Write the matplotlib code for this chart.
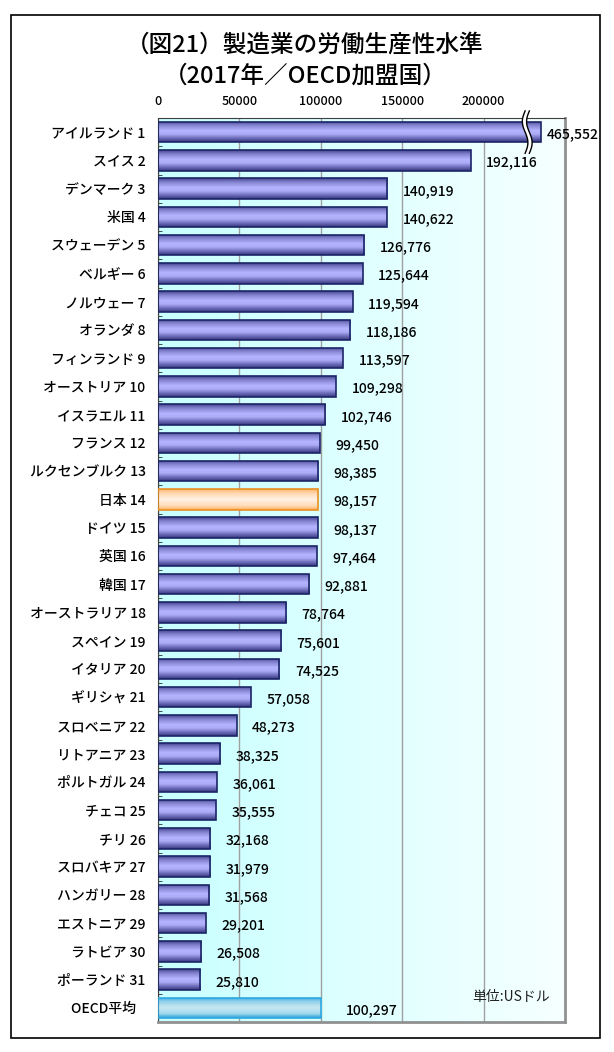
import numpy as np
import matplotlib
matplotlib.use("Agg")
import matplotlib.pyplot as plt
from matplotlib.colors import LinearSegmentedColormap
from matplotlib.patches import Rectangle, Polygon

plt.rcParams['font.family'] = ['Noto Sans CJK JP', 'DejaVu Sans']

# data
labels = ["アイルランド 1", "スイス 2", "デンマーク 3", "米国 4", "スウェーデン 5",
          "ベルギー 6", "ノルウェー 7", "オランダ 8", "フィンランド 9", "オーストリア 10",
          "イスラエル 11", "フランス 12", "ルクセンブルク 13", "日本 14", "ドイツ 15",
          "英国 16", "韓国 17", "オーストラリア 18", "スペイン 19", "イタリア 20",
          "ギリシャ 21", "スロベニア 22", "リトアニア 23", "ポルトガル 24", "チェコ 25",
          "チリ 26", "スロバキア 27", "ハンガリー 28", "エストニア 29", "ラトビア 30",
          "ポーランド 31", "OECD平均   "]
values = [465552, 192116, 140919, 140622, 126776, 125644, 119594, 118186, 113597, 109298,
          102746, 99450, 98385, 98157, 98137, 97464, 92881, 78764, 75601, 74525,
          57058, 48273, 38325, 36061, 35555, 32168, 31979, 31568, 29201, 26508,
          25810, 100297]
xticks = [0, 50000, 100000, 150000, 200000]

x_max = 250000
cap = 235000      # bars longer than this are cut (with break mark)
break_x = 225500

fig = plt.figure(figsize=(6.14, 10.52), dpi=100)
fig.patches.append(Rectangle((11/614, 1-1038/1052), 589/614, 1023/1052,
                             transform=fig.transFigure, fill=False,
                             edgecolor='black', lw=1.2))

fig.text(0.497, 0.957, "（図21）製造業の労働生産性水準", ha='center', va='center',
         fontsize=17, fontweight='medium')
fig.text(0.497, 0.928, "（2017年／OECD加盟国）", ha='center', va='center',
         fontsize=17, fontweight='medium')

ax = fig.add_axes([158/614, 1-1022/1052, 407/614, 904/1052])

n = len(values)
ypos = np.arange(n)
shown = [min(v, cap) for v in values]
h = 0.72

# background gradient
bg = LinearSegmentedColormap.from_list('bg', ['#c8ffff', '#f6ffff'])
ax.imshow(np.linspace(0, 1, 256).reshape(1, -1), cmap=bg, aspect='auto',
          extent=[0, x_max, n - 0.5, -0.5], zorder=-1)

cm_blue = LinearSegmentedColormap.from_list('b', [
    (0, '#44448e'), (0.18, '#8080ce'), (0.45, '#b4b4ff'), (0.62, '#acacf6'),
    (0.85, '#6464b2'), (1, '#36367a')])
cm_orange = LinearSegmentedColormap.from_list('o', [
    (0, '#ffb870'), (0.2, '#ffd8b0'), (0.5, '#fff2e6'), (0.8, '#ffdcb8'),
    (1, '#ffb060')])
cm_cyan = LinearSegmentedColormap.from_list('c', [
    (0, '#30a8e0'), (0.2, '#90d0ec'), (0.5, '#c8e8f0'), (0.8, '#a0d8ee'),
    (1, '#28a0d8')])

edges = []
cmaps = []
for lab in labels:
    if lab.startswith("日本"):
        edges.append('#e89020'); cmaps.append(cm_orange)
    elif lab.startswith("OECD"):
        edges.append('#30a8e0'); cmaps.append(cm_cyan)
    else:
        edges.append('#1c2668'); cmaps.append(cm_blue)

bars = ax.barh(ypos, shown, height=h, facecolor='none', edgecolor=edges,
               linewidth=1.2, zorder=3)
grad = np.linspace(0, 1, 64).reshape(-1, 1)
for b, cmap in zip(bars, cmaps):
    y0 = b.get_y()
    im = ax.imshow(grad, cmap=cmap, aspect='auto',
                   extent=[0, b.get_width(), y0 + h, y0], zorder=2)
    im.set_clip_path(b)

# value labels
for i, (v, s) in enumerate(zip(values, shown)):
    off = 9500
    if v > cap:
        off = 3500
    elif labels[i].startswith("OECD"):
        off = 15000
    ax.text(s + off, i + 0.08, f"{v:,}", ha='left', va='center', fontsize=10,
            fontweight='medium', zorder=5, clip_on=False)

# break mark on the cut bar
for i, v in enumerate(values):
    if v > cap:
        t = np.linspace(-0.75, 0.75, 60)
        wob = 1700 * np.sin(t / 0.75 * np.pi)
        gap = 2600
        left = break_x + wob
        right = break_x + gap + wob
        poly = Polygon(np.column_stack([np.r_[left, right[::-1]],
                                        np.r_[i + t, (i + t)[::-1]]]),
                       closed=True, facecolor='white', edgecolor='none',
                       zorder=6, clip_on=False)
        ax.add_patch(poly)
        ax.plot(left, i + t, color='black', lw=1, zorder=7, clip_on=False)
        ax.plot(right, i + t, color='black', lw=1, zorder=7, clip_on=False)

ax.set_xlim(0, x_max)
ax.set_ylim(n - 0.5, -0.5)
ax.set_yticks(ypos)
ax.set_yticklabels(labels, fontsize=10, fontweight='medium')
ax.set_yticks(np.arange(0.5, n - 1, 1), minor=True)
ax.tick_params(axis='y', which='major', length=0, pad=9)
ax.tick_params(axis='y', which='minor', direction='in', length=3, color='#333333')
ax.xaxis.tick_top()
ax.set_xticks(xticks)
ax.set_xticklabels([str(x) for x in xticks], fontsize=9, fontweight='medium')
ax.tick_params(axis='x', length=0, pad=7)

ax.set_axisbelow(True)
ax.grid(axis='x', color='#a0a0a0', lw=1)
ax.spines['left'].set_color('#404040')
ax.spines['top'].set_color('#404040')
ax.spines['right'].set_color('#909090')
ax.spines['bottom'].set_color('#909090')
ax.spines['right'].set_linewidth(2)
ax.spines['bottom'].set_linewidth(2)

ax.text(0.963, 0.028, "単位:USドル", transform=ax.transAxes, ha='right',
        va='center', fontsize=10, color='#202020')

fig.savefig("out.png", dpi=100)
